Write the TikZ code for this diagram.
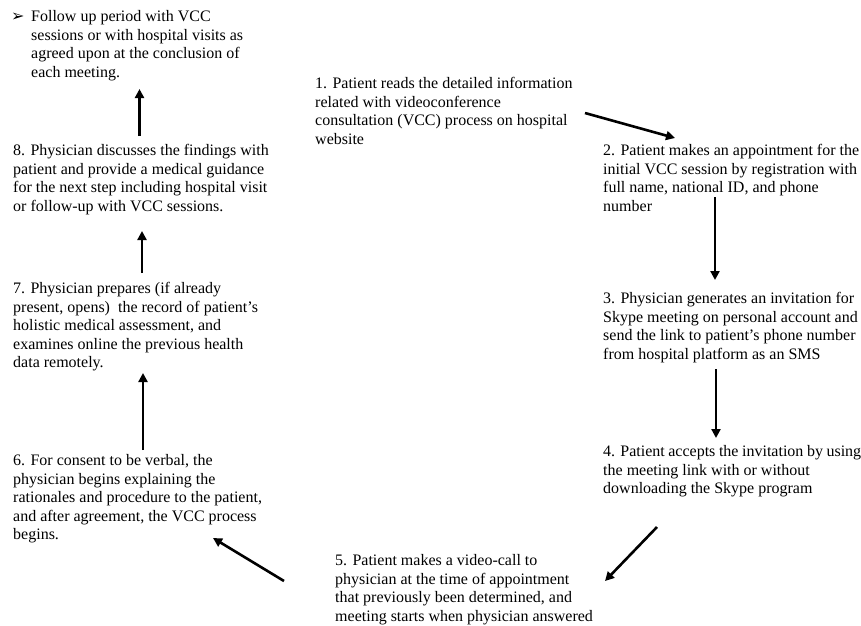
\documentclass[tikz,border=0pt]{standalone}
\usepackage{fontspec}
\setmainfont{Liberation Serif}
\newfontfamily\dejavu{DejaVu Sans}
\usetikzlibrary{arrows.meta}
\begin{document}
\begin{tikzpicture}[x=1pt,y=-1pt,
  txt/.style={anchor=base west, inner sep=0pt, font=\fontsize{16}{18.5}\selectfont},
  flow/.style={line width=2.6pt, -{Triangle[length=9pt,width=9pt]}}]
\useasboundingbox (0,0) rectangle (861,625);

\node[anchor=base west, inner sep=0pt, font=\dejavu\fontsize{16}{16}\selectfont] (b0) at (11,21.5) {➢};
\node[txt] (t0) at (31,21.5) {\parbox[t]{262pt}{\raggedright
Follow up period with VCC\\
sessions or with hospital visits as\\
agreed upon at the conclusion of\\
each meeting.}};

\node[txt] (t1) at (315,88.5) {\parbox[t]{262pt}{\raggedright
1. Patient reads the detailed information\\
related with videoconference\\
consultation (VCC) process on hospital\\
website}};

\node[txt] (t2) at (603,155.5) {\parbox[t]{258pt}{\raggedright
2. Patient makes an appointment for the\\
initial VCC session by registration with\\
full name, national ID, and phone\\
number}};

\node[txt] (t3) at (603,303.5) {\parbox[t]{258pt}{\raggedright
3. Physician generates an invitation for\\
Skype meeting on personal account and\\
send the link to patient’s phone number\\
from hospital platform as an SMS}};

\node[txt] (t4) at (603,456.5) {\parbox[t]{258pt}{\raggedright
4. Patient accepts the invitation by using\\
the meeting link with or without\\
downloading the Skype program}};

\node[txt] (t5) at (335,565.5) {\parbox[t]{290pt}{\raggedright
5. Patient makes a video-call to\\
physician at the time of appointment\\
that previously been determined, and\\
meeting starts when physician answered}};

\node[txt] (t6) at (13,465.5) {\parbox[t]{262pt}{\raggedright
6. For consent to be verbal, the\\
physician begins explaining the\\
rationales and procedure to the patient,\\
and after agreement, the VCC process\\
begins.}};

\node[txt] (t7) at (13,293.5) {\parbox[t]{262pt}{\raggedright
7. Physician prepares (if already\\
present, opens)~ the record of patient’s\\
holistic medical assessment, and\\
examines online the previous health\\
data remotely.}};

\node[txt] (t8) at (13,155.5) {\parbox[t]{262pt}{\raggedright
8. Physician discusses the findings with\\
patient and provide a medical guidance\\
for the next step including hospital visit\\
or follow-up with VCC sessions.}};

\coordinate (a1s) at (585,113);   \coordinate (a1e) at (675,138);
\coordinate (a2s) at (715,197);   \coordinate (a2e) at (715,280);
\coordinate (a3s) at (716,369);   \coordinate (a3e) at (716,438);
\coordinate (a4s) at (657,527);   \coordinate (a4e) at (605,581);
\coordinate (a5s) at (284,581);   \coordinate (a5e) at (213,538);
\coordinate (a6s) at (143,450);   \coordinate (a6e) at (143,373);
\coordinate (a7s) at (142,273);   \coordinate (a7e) at (142,231);
\coordinate (a8s) at (139.5,136); \coordinate (a8e) at (139.5,89);

\draw[flow] (a1s) -- (a1e);
\draw[flow] (a2s) -- (a2e);
\draw[flow] (a3s) -- (a3e);
\draw[flow] (a4s) -- (a4e);
\draw[flow] (a5s) -- (a5e);
\draw[flow] (a6s) -- (a6e);
\draw[flow] (a7s) -- (a7e);
\draw[flow] (a8s) -- (a8e);
\end{tikzpicture}
\end{document}
